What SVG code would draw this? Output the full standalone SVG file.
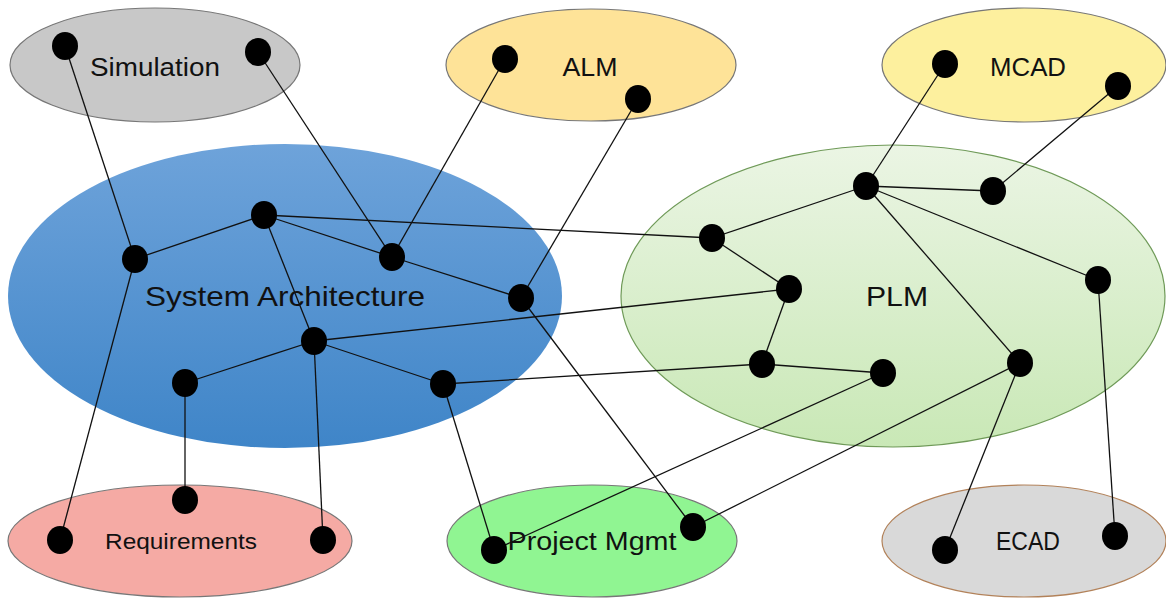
<svg xmlns="http://www.w3.org/2000/svg" width="1166" height="598" viewBox="0 0 1166 598">
<defs>
<linearGradient id="gSA" x1="0" y1="0" x2="0" y2="1"><stop offset="0" stop-color="#6ea3da"/><stop offset="1" stop-color="#3f85c8"/></linearGradient>
<linearGradient id="gPLM" x1="0" y1="0" x2="0" y2="1"><stop offset="0" stop-color="#ebf5e4"/><stop offset="1" stop-color="#c9e8b6"/></linearGradient>
</defs>
<style>
text{font-family:"Liberation Sans","DejaVu Sans",sans-serif;fill:#111;text-anchor:middle}
.e{stroke:#777;stroke-width:1.2}
.n{fill:#000}
#connectors line{stroke:#111;stroke-width:1.3}
</style>
<rect width="1166" height="598" fill="#fff"/>
<g id="simulation"><ellipse class="e" cx="155" cy="65" rx="145" ry="57" fill="#c8c8c8"/><text x="155" y="76" font-size="25" textLength="130" lengthAdjust="spacingAndGlyphs">Simulation</text></g>
<g id="alm"><ellipse class="e" cx="591" cy="65" rx="145" ry="56" fill="#fee398" stroke="#b89a3a"/><text x="590" y="76" font-size="26" textLength="55" lengthAdjust="spacingAndGlyphs">ALM</text></g>
<g id="mcad"><ellipse class="e" cx="1024" cy="65" rx="142" ry="57" fill="#fdf09e"/><text x="1028" y="76" font-size="26" textLength="76" lengthAdjust="spacingAndGlyphs">MCAD</text></g>
<g id="system-architecture"><ellipse cx="285" cy="296" rx="277" ry="152" fill="url(#gSA)"/><text x="285" y="306" font-size="28" textLength="280" lengthAdjust="spacingAndGlyphs">System Architecture</text></g>
<g id="plm"><ellipse cx="893" cy="296" rx="272" ry="151" fill="url(#gPLM)" stroke="#6f9a58" stroke-width="1.2"/><text x="897" y="306" font-size="28" textLength="62" lengthAdjust="spacingAndGlyphs">PLM</text></g>
<g id="requirements"><ellipse class="e" cx="180" cy="541" rx="172" ry="56" fill="#f5aaa4"/><text x="181" y="549" font-size="22" textLength="152" lengthAdjust="spacingAndGlyphs">Requirements</text></g>
<g id="project-mgmt"><ellipse class="e" cx="592" cy="541" rx="145" ry="56" fill="#90f592"/><text x="592" y="550" font-size="26" textLength="169" lengthAdjust="spacingAndGlyphs">Project Mgmt</text></g>
<g id="ecad"><ellipse cx="1024" cy="541" rx="142" ry="56" fill="#d9d9d9" stroke="#b2825a" stroke-width="1.2"/><text x="1028" y="550" font-size="25" textLength="64" lengthAdjust="spacingAndGlyphs">ECAD</text></g>
<g id="connectors">
<line x1="65" y1="46" x2="135" y2="259"/>
<line x1="135" y1="259" x2="60" y2="540"/>
<line x1="258" y1="52" x2="392" y2="257"/>
<line x1="505" y1="59" x2="392" y2="257"/>
<line x1="638" y1="99" x2="521" y2="298"/>
<line x1="135" y1="259" x2="264" y2="215"/>
<line x1="264" y1="215" x2="392" y2="257"/>
<line x1="264" y1="215" x2="712" y2="238"/>
<line x1="264" y1="215" x2="314" y2="341"/>
<line x1="392" y1="257" x2="521" y2="298"/>
<line x1="521" y1="298" x2="693" y2="527"/>
<line x1="314" y1="341" x2="789" y2="289"/>
<line x1="314" y1="341" x2="185" y2="383"/>
<line x1="314" y1="341" x2="443" y2="384"/>
<line x1="314" y1="341" x2="323" y2="540"/>
<line x1="185" y1="383" x2="185" y2="500"/>
<line x1="443" y1="384" x2="762" y2="364"/>
<line x1="443" y1="384" x2="494" y2="550"/>
<line x1="866" y1="186" x2="945" y2="64"/>
<line x1="866" y1="186" x2="993" y2="191"/>
<line x1="993" y1="191" x2="1118" y2="86"/>
<line x1="866" y1="186" x2="712" y2="238"/>
<line x1="866" y1="186" x2="1098" y2="280"/>
<line x1="866" y1="186" x2="1020" y2="363"/>
<line x1="712" y1="238" x2="789" y2="289"/>
<line x1="789" y1="289" x2="762" y2="364"/>
<line x1="762" y1="364" x2="883" y2="373"/>
<line x1="883" y1="373" x2="494" y2="550"/>
<line x1="1020" y1="363" x2="693" y2="527"/>
<line x1="1020" y1="363" x2="945" y2="550"/>
<line x1="1098" y1="280" x2="1115" y2="536"/>
</g>
<g id="dots">
<ellipse class="n" cx="65" cy="46" rx="13" ry="14"/>
<ellipse class="n" cx="258" cy="52" rx="13" ry="14"/>
<ellipse class="n" cx="505" cy="59" rx="13" ry="14"/>
<ellipse class="n" cx="638" cy="99" rx="13" ry="14"/>
<ellipse class="n" cx="945" cy="64" rx="13" ry="14"/>
<ellipse class="n" cx="1118" cy="86" rx="13" ry="14"/>
<ellipse class="n" cx="135" cy="259" rx="13" ry="14"/>
<ellipse class="n" cx="264" cy="215" rx="13" ry="14"/>
<ellipse class="n" cx="392" cy="257" rx="13" ry="14"/>
<ellipse class="n" cx="521" cy="298" rx="13" ry="14"/>
<ellipse class="n" cx="314" cy="341" rx="13" ry="14"/>
<ellipse class="n" cx="185" cy="383" rx="13" ry="14"/>
<ellipse class="n" cx="443" cy="384" rx="13" ry="14"/>
<ellipse class="n" cx="866" cy="186" rx="13" ry="14"/>
<ellipse class="n" cx="993" cy="191" rx="13" ry="14"/>
<ellipse class="n" cx="712" cy="238" rx="13" ry="14"/>
<ellipse class="n" cx="789" cy="289" rx="13" ry="14"/>
<ellipse class="n" cx="1098" cy="280" rx="13" ry="14"/>
<ellipse class="n" cx="762" cy="364" rx="13" ry="14"/>
<ellipse class="n" cx="883" cy="373" rx="13" ry="14"/>
<ellipse class="n" cx="1020" cy="363" rx="13" ry="14"/>
<ellipse class="n" cx="60" cy="540" rx="13" ry="14"/>
<ellipse class="n" cx="185" cy="500" rx="13" ry="14"/>
<ellipse class="n" cx="323" cy="540" rx="13" ry="14"/>
<ellipse class="n" cx="494" cy="550" rx="13" ry="14"/>
<ellipse class="n" cx="693" cy="527" rx="13" ry="14"/>
<ellipse class="n" cx="945" cy="550" rx="13" ry="14"/>
<ellipse class="n" cx="1115" cy="536" rx="13" ry="14"/>
</g>
</svg>
